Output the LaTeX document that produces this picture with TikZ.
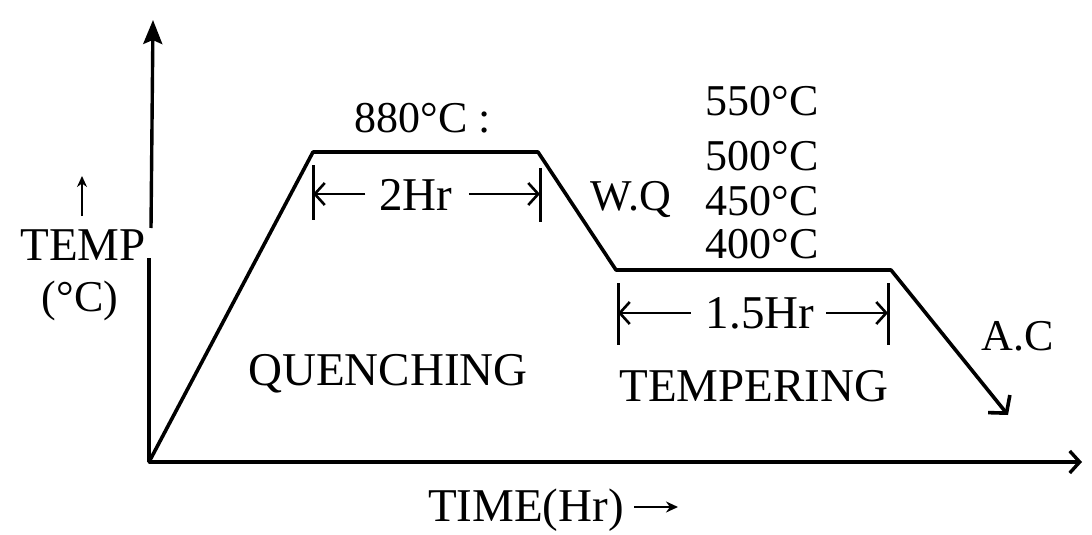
\documentclass[tikz,border=0pt]{standalone}
\usepackage{fontspec}
\setmainfont{Liberation Serif}
\usetikzlibrary{arrows.meta}
\begin{document}
\begin{tikzpicture}[x=1pt,y=-1pt,
  curve/.style={line width=3.6pt, line join=round, line cap=round},
  axisline/.style={line width=3.4pt},
  dimarrow/.style={line width=2.6pt,-{Straight Barb[length=10pt,width=22pt,line width=2.6pt]}},
  tickline/.style={line width=3pt},
  big/.style={font=\fontsize{47}{50}\selectfont, inner sep=0pt, anchor=base},
  mid/.style={font=\fontsize{44}{46}\selectfont, inner sep=0pt, anchor=base}]
\useasboundingbox (0,0) rectangle (1092,535);
% axes
\coordinate (O) at (149,462);
\coordinate (Ytop) at (153,20);
\coordinate (Ygap1) at (149,258);
\coordinate (Ygap2) at (151,228);
\coordinate (Xend) at (1082,462);
\draw[axisline] (O) -- (Ygap1);
\draw[axisline,-{Stealth[length=24pt,width=19pt,inset=4pt]}] (Ygap2) -- (Ytop);
\draw[axisline,-{Straight Barb[length=10pt,width=22pt,line width=3.4pt]}] (O) -- (Xend);
% heat treatment curve
\coordinate (A) at (313,152);
\coordinate (B) at (538,152);
\coordinate (C) at (616,270);
\coordinate (D) at (891,270);
\coordinate (E) at (1008,415);
\draw[curve,-{Straight Barb[length=12pt,width=28pt,line width=3.6pt]}] (O) -- (A) -- (B) -- (C) -- (D) -- (E);
% labels
\node[mid] (t880) at (423,132) {880°C :};
\node[big] (h2) at (416,210) {2Hr};
\coordinate (t1a) at (313,165); \coordinate (t1b) at (313,220);
\coordinate (t2a) at (540,168); \coordinate (t2b) at (540,222);
\draw[tickline] (t1a) -- (t1b);
\draw[tickline] (t2a) -- (t2b);
\draw[dimarrow] ([xshift=-14pt,yshift=16pt]h2.base west) -- ([yshift=16pt]t1a |- h2.base);
\draw[dimarrow] ([xshift=16pt,yshift=16pt]h2.base east) -- ([yshift=16pt]t2a |- h2.base);
\node[mid] (wq) at (631,210) {W.Q};
\node[mid] (c550) at (762,115) {550°C};
\node[mid] (c500) at (762,170) {500°C};
\node[mid] (c450) at (762,215) {450°C};
\node[mid] (c400) at (762,258) {400°C};
\node[big] (h15) at (760,328) {1.5Hr};
\coordinate (t3a) at (618,283); \coordinate (t3b) at (618,345);
\coordinate (t4a) at (888,283); \coordinate (t4b) at (888,345);
\draw[tickline] (t3a) -- (t3b);
\draw[tickline] (t4a) -- (t4b);
\draw[dimarrow] ([xshift=-15pt,yshift=15pt]h15.base west) -- ([yshift=15pt]t3a |- h15.base);
\draw[dimarrow] ([xshift=12pt,yshift=15pt]h15.base east) -- ([yshift=15pt]t4a |- h15.base);
\node[big] (quench) at (388,385) {QUENCHING};
\node[big] (temper) at (754,401) {TEMPERING};
\node[mid] (ac) at (1018,350) {A.C};
\node[big] (temp) at (83,260) {TEMP};
\node[mid] (unit) at (80,311) {(°C)};
\coordinate (ua) at (82,216); \coordinate (ub) at (82,176);
\draw[line width=2pt,-{Stealth[length=11pt,width=10pt]}] (ua) -- (ub);
\node[big] (time) at (526,521) {TIME(Hr)};
\coordinate (ta) at (634,507); \coordinate (tb) at (678,507);
\draw[line width=2.6pt,-{Stealth[length=12pt,width=11pt]}] (ta) -- (tb);
\end{tikzpicture}
\end{document}
